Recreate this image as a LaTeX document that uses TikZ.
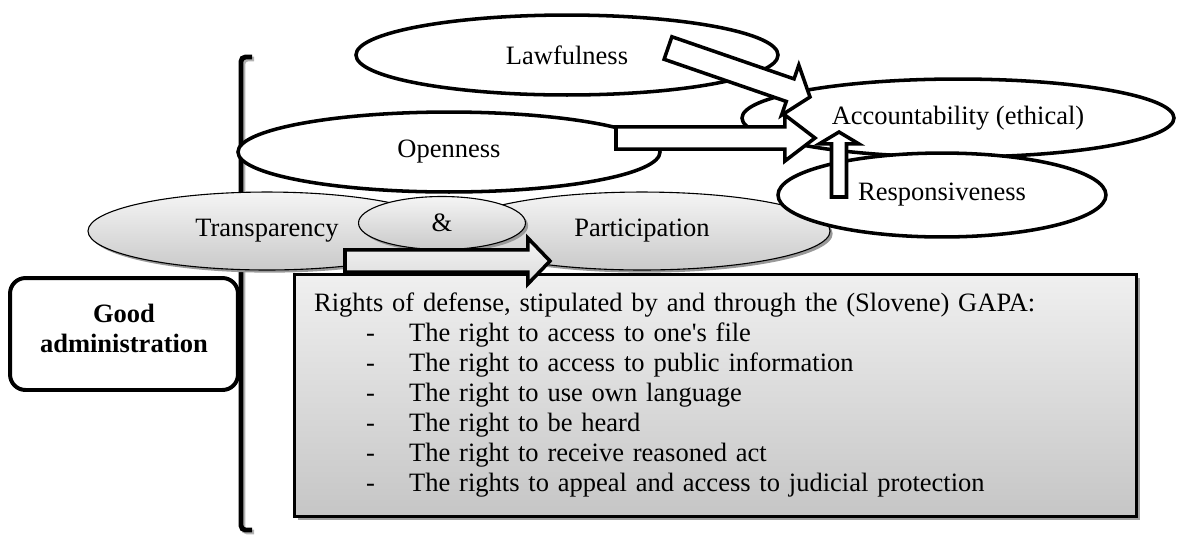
\documentclass[tikz,border=0pt]{standalone}
\usepackage{fontspec}
\setmainfont{Liberation Serif}
\usetikzlibrary{shapes.geometric, calc, shadows}

\tikzset{
  every node/.style={font=\fontsize{12pt}{13.6pt}\selectfont},
  oval/.style={ellipse, draw, line width=1.6pt, fill=white, inner sep=0pt},
  grayoval/.style={ellipse, draw, line width=0.5pt, inner sep=0pt,
    top color=gray!8, bottom color=gray!42,
    drop shadow={shadow xshift=1.2pt, shadow yshift=-1.2pt, fill=gray!80, opacity=1}},
  blockline/.style={draw, line width=1.6pt, fill=white, line join=miter},
  rightsbox/.style={rectangle, draw, line width=1.2pt, align=left, inner ysep=0pt,
    top color=gray!12, bottom color=gray!45,
    drop shadow={shadow xshift=1.8pt, shadow yshift=-1.8pt, fill=gray!75, opacity=1}},
  adminbox/.style={rectangle, rounded corners=7pt, draw, line width=1.8pt, fill=white},
  admintext/.style={align=center, font=\bfseries\fontsize{12pt}{13.6pt}\selectfont}
}

% block arrow: [style]{tail}{tip}{half shaft}{half head}{head length}
\newcommand{\blockarrow}[6][]{%
  \coordinate (headbase) at ($(#3)!#6!(#2)$);
  \draw[blockline, #1] ($(#2)!#4!90:(#3)$) -- ($(headbase)!#4!90:(#3)$)
    -- ($(headbase)!#5!90:(#3)$) -- (#3)
    -- ($(headbase)!#5!-90:(#3)$) -- ($(headbase)!#4!-90:(#3)$)
    -- ($(#2)!#4!-90:(#3)$) -- cycle;}
\newcommand{\rightsitem}[1]{\hspace*{23.5pt}\makebox[19.5pt][l]{-}#1}

\begin{document}
\begin{tikzpicture}[x=0.4528pt, y=-0.4528pt]
    \useasboundingbox (0,0) rectangle (1182,535);
    % Bracket
    \draw[line width=2.2pt, gray!60, rounded corners=2pt] (254,59) -- (243,59) -- (243,532) -- (254,532);
    \draw[line width=2.2pt, rounded corners=2pt] (252,57) -- (241,57) -- (241,530) -- (252,530);
    % Transparency and participation
    \node[grayoval, minimum width=162.1pt, minimum height=35.3pt] (transp) at (267,231) {Transparency};
    \node[grayoval, minimum width=170.3pt, minimum height=35.3pt] (partic) at (642,231) {Participation};
    % Principles
    \node[oval, minimum width=191.1pt, minimum height=36.2pt] (lawful) at (567,55) {Lawfulness};
    \node[oval, minimum width=191.1pt, minimum height=36.2pt] (open) at (449,152) {Openness};
    \node[oval, minimum width=195.6pt, minimum height=35.3pt] (account) at (958,118) {Accountability (ethical)};
    \node[oval, minimum width=148.5pt, minimum height=38pt] (respons) at (942,195) {Responsiveness};
    \node[grayoval, minimum width=75.6pt, minimum height=24pt] (amp) at (442,223) {\&};
    % Rights of defense
    \node[rightsbox, anchor=north west, minimum width=381.3pt, minimum height=109.6pt,
      text width=363.3pt, inner xsep=9pt] (rights) at (293,273)
      {Rights of defense, stipulated by and through the (Slovene) GAPA:\\
       \rightsitem{The right to access to one\textquotesingle s file}\\
       \rightsitem{The right to access to public information}\\
       \rightsitem{The right to use own language}\\
       \rightsitem{The right to be heard}\\
       \rightsitem{The right to receive reasoned act}\\
       \rightsitem{The rights to appeal and access to judicial protection}};
    % Good administration
    \node[adminbox, minimum width=103.2pt, minimum height=50.7pt] (admin) at (124,334) {};
    \node[admintext] (admintitle) at (124,328) {Good\\administration};
    % Arrows
    \coordinate (lawtail) at (668,48);
    \coordinate (lawtip) at (810,97);
    \coordinate (opentail) at (616,138);
    \coordinate (opentip) at (815,138);
    \coordinate (resptail) at (839,197);
    \coordinate (resptip) at (839,132);
    \coordinate (transptail) at (345,261);
    \coordinate (transptip) at (550,261);
    \blockarrow{lawtail}{lawtip}{5.4pt}{12pt}{9.5pt}
    \blockarrow{opentail}{opentip}{5pt}{10.4pt}{13.6pt}
    \blockarrow{resptail}{resptip}{3.4pt}{9pt}{5.4pt}
    \blockarrow[top color=gray!8, bottom color=gray!28]{transptail}{transptip}{5pt}{10.4pt}{10pt}
\end{tikzpicture}
\end{document}
